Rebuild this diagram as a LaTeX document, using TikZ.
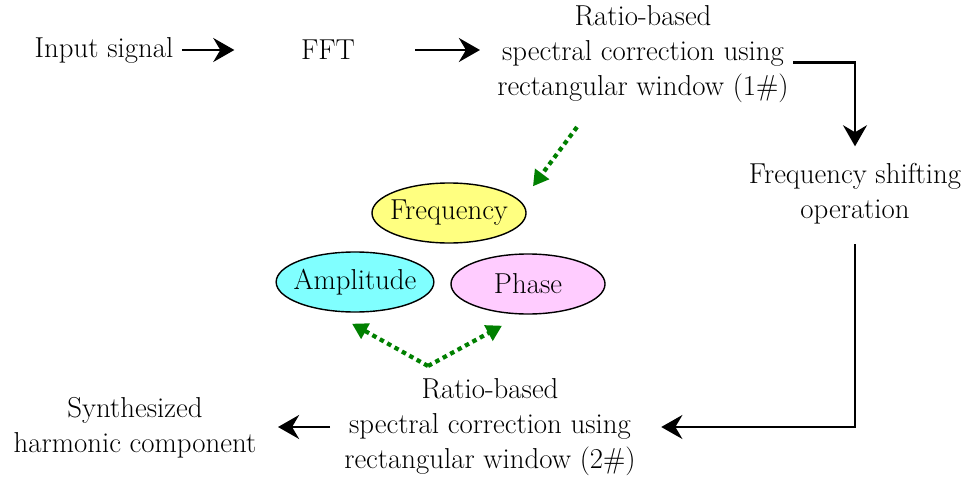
\documentclass[tikz,border=0pt]{standalone}
\usetikzlibrary{arrows.meta,shapes.geometric}
\definecolor{dotgreen}{RGB}{0,128,0}
\definecolor{freqfill}{RGB}{255,255,128}
\definecolor{ampfill}{RGB}{128,255,255}
\definecolor{phasefill}{RGB}{255,204,255}
\begin{document}
\begin{tikzpicture}[x=0.025cm,y=-0.025cm,
  txt/.style={align=center,inner sep=0pt,font=\fontsize{20.5pt}{25pt}\selectfont},
  oval/.style={ellipse,draw,line width=1pt,minimum width=3.85cm,minimum height=1.5cm,inner xsep=-4pt,inner ysep=0pt,font=\fontsize{20.5pt}{25pt}\selectfont},
  arr/.style={line width=2pt,-{Stealth[length=15pt,width=17pt,inset=5pt]}},
  dotarr/.style={dotgreen,line width=3pt,dash pattern=on 3.2pt off 2.8pt,-{Triangle[length=11pt,width=12pt]}}]
\useasboundingbox (0,0) rectangle (966,479);
\node[txt] (input) at (104,50) {Input signal};
\node[txt] (fft) at (328,50) {FFT};
\node[txt] (corr1) at (643,54) {Ratio-based\\spectral correction using\\rectangular window (1\#)};
\node[txt] (shift) at (855,194) {Frequency shifting\\operation};
\node[txt] (corr2) at (490,427) {Ratio-based\\spectral correction using\\rectangular window (2\#)};
\node[txt] (synth) at (135,428) {Synthesized\\harmonic component};
\node[oval,fill=freqfill] (freq) at (449,213) {Frequency};
\node[oval,fill=ampfill] (amp) at (355,282) {Amplitude};
\node[oval,fill=phasefill] (phase) at (528,284) {Phase};
\coordinate (fork) at (428,366);

\draw[arr,shorten <=6pt,shorten >=4pt] (input.east) -- (input.east -| 240,0);
\draw[arr] (fft.east -| 415,0) -- (fft.east -| 480,0);
\draw[arr,shorten >=12pt] ([yshift=-6]corr1.east -| 793,0) -| (shift.north);
\draw[arr,shorten <=14pt,shorten >=18pt] (shift.south) |- (corr2.east);
\draw[arr] (corr2.west -| 330,0) -- (corr2.west -| 278,0);
\draw[dotarr] ([shift={(-66,24)}]corr1.south) -- ([shift={(29,-5)}]freq.north east);
\draw[dotarr] (fork) -- ([shift={(-3,11)}]amp.south);
\draw[dotarr] (fork) -- ([shift={(-26,11)}]phase.south);
\end{tikzpicture}
\end{document}
